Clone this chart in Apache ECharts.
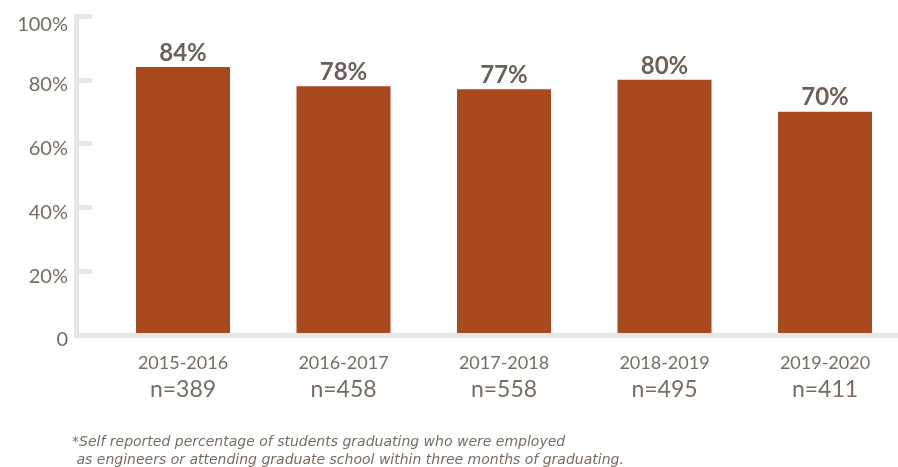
<!DOCTYPE html>
<html>
<head>
<meta charset="utf-8">
<script src="https://cdn.jsdelivr.net/npm/echarts@6/dist/echarts.min.js"></script>
<style>
  html, body { margin: 0; padding: 0; background: #ffffff; }
  #chart { width: 898px; height: 467px; }
</style>
</head>
<body>
<div id="chart"></div>
<script>
// Academic years, respondent counts and placement rates
const years = ['2015-2016', '2016-2017', '2017-2018', '2018-2019', '2019-2020'];
const counts = [389, 458, 558, 495, 411];
const rates = [84, 78, 77, 80, 70];
const yTicks = [0, 20, 40, 60, 80, 100];

const footnote = '*Self reported percentage of students graduating who were employed\n as engineers or attending graduate school within three months of graduating.';

const FONT = 'Lato, "Open Sans", sans-serif';
const TEXT = '#7a6b62';
const AXIS = '#e6e6e6';
const BAR = '#a84a1e';

const chart = echarts.init(document.getElementById('chart'), null, { renderer: 'canvas' });

chart.setOption({
  animation: false,
  backgroundColor: '#ffffff',
  textStyle: { fontFamily: FONT },
  title: {
    text: footnote,
    left: 67,
    top: 428,
    textStyle: {
      fontFamily: '"DejaVu Sans", sans-serif',
      fontStyle: 'italic',
      fontWeight: 'normal',
      fontSize: 14,
      lineHeight: 18,
      color: TEXT
    }
  },
  grid: [
    // frame: y axis and baseline
    { left: 76, right: 0, top: 16, bottom: 132 },
    // bars, centred on the category ticks
    { left: 183, right: 73, top: 16, bottom: 132 }
  ],
  xAxis: [
    {
      gridIndex: 0, type: 'value', min: 0, max: 1, z: 5,
      axisLine: { show: true, lineStyle: { color: AXIS, width: 5 } },
      axisTick: { show: false }, axisLabel: { show: false }, splitLine: { show: false }
    },
    {
      gridIndex: 1, type: 'category', data: years, boundaryGap: false,
      axisLine: { show: false }, axisTick: { show: false },
      axisLabel: {
        margin: 16,
        formatter: (v, i) => '{y|' + v + '}\n{n|n=' + counts[i] + '}',
        rich: {
          y: { fontFamily: FONT, fontSize: 18, color: TEXT, lineHeight: 25 },
          n: { fontFamily: FONT, fontSize: 23, color: TEXT, lineHeight: 28 }
        }
      }
    }
  ],
  yAxis: [
    {
      gridIndex: 0, type: 'value', min: yTicks[0], max: yTicks[yTicks.length - 1], interval: 20,
      axisLine: { show: true, lineStyle: { color: AXIS, width: 5 } },
      axisTick: { show: true, inside: true, length: 16, lineStyle: { color: AXIS, width: 5 } },
      splitLine: { show: false },
      axisLabel: {
        margin: 8,
        formatter: v => (v === 100 ? '{top|' + v + '%}' : '{v|' + (v === 0 ? '0' : v + '%') + '}'),
        rich: {
          v: { fontFamily: FONT, fontSize: 20, color: TEXT, padding: [10, 0, 0, 0] },
          top: { fontFamily: FONT, fontSize: 20, color: TEXT, padding: [17, 0, 0, 0] }
        }
      }
    },
    { gridIndex: 1, type: 'value', min: 0, max: 100, show: false }
  ],
  series: [
    {
      type: 'bar',
      xAxisIndex: 1,
      yAxisIndex: 1,
      data: rates,
      barWidth: 94,
      clip: false,
      itemStyle: { color: BAR },
      label: {
        show: true,
        position: 'top',
        distance: 2,
        formatter: '{c}%',
        fontFamily: FONT,
        fontWeight: 'bold',
        fontSize: 24,
        color: '#6e6058'
      }
    }
  ]
});
</script>
</body>
</html>
